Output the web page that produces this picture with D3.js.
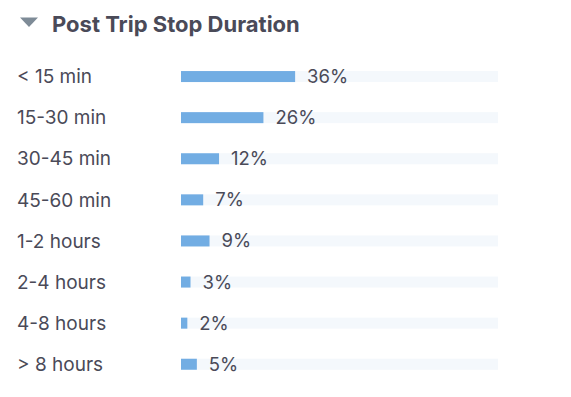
<!DOCTYPE html>
<html>
<head>
<meta charset="utf-8">
<script src="https://cdn.jsdelivr.net/npm/d3@7"></script>
<style>
  body { margin: 0; background: #fff; font-family: Inter, "Noto Sans", sans-serif; }
</style>
</head>
<body>
<div id="chart"></div>
<script>
var title = "Post Trip Stop Duration";
var categories = ["< 15 min", "15-30 min", "30-45 min", "45-60 min", "1-2 hours", "2-4 hours", "4-8 hours", "> 8 hours"];
var values = [36, 26, 12, 7, 9, 3, 2, 5];

var width = 571, height = 397;
var margin = {top: 56, left: 181, right: 73};
var rowStep = 41.1, barHeight = 11;

var svg = d3.select("#chart").append("svg")
    .attr("width", width)
    .attr("height", height);

// header: collapse arrow + title
svg.append("path")
    .attr("d", "M20,17.5 L38,17.5 L29,27 Z")
    .attr("fill", "#7e8b97");

svg.append("text")
    .attr("x", 52)
    .attr("y", 31.5)
    .attr("font-size", "22px")
    .attr("font-weight", 700)
    .attr("fill", "#4a4a58")
    .text(title);

var x = d3.scaleLinear()
    .domain([0, 100])
    .range([margin.left, width - margin.right]);

var y = d3.scaleBand()
    .domain(categories)
    .range([margin.top, margin.top + rowStep * categories.length]);

var row = svg.selectAll(".row")
    .data(categories)
    .enter()
    .append("g")
    .attr("class", "row")
    .attr("transform", d => "translate(0," + (y(d) + y.bandwidth() / 2) + ")");

// category labels
row.append("text")
    .attr("x", 17)
    .attr("dy", "0.35em")
    .attr("font-size", "19px")
    .attr("fill", "#4a4a58")
    .text(d => d);

// background track
row.append("rect")
    .attr("x", x(0))
    .attr("y", -barHeight / 2)
    .attr("width", x(100) - x(0))
    .attr("height", barHeight)
    .attr("fill", "#f4f8fc");

// value bar
row.append("rect")
    .attr("x", x(0))
    .attr("y", -barHeight / 2)
    .attr("width", (d, i) => x(values[i]) - x(0))
    .attr("height", barHeight)
    .attr("fill", "#72ade3");

// value labels
row.append("text")
    .attr("x", (d, i) => x(values[i]) + 12)
    .attr("dy", "0.35em")
    .attr("font-size", "18.5px")
    .attr("fill", "#4a4a58")
    .text((d, i) => values[i] + "%");
</script>
</body>
</html>
